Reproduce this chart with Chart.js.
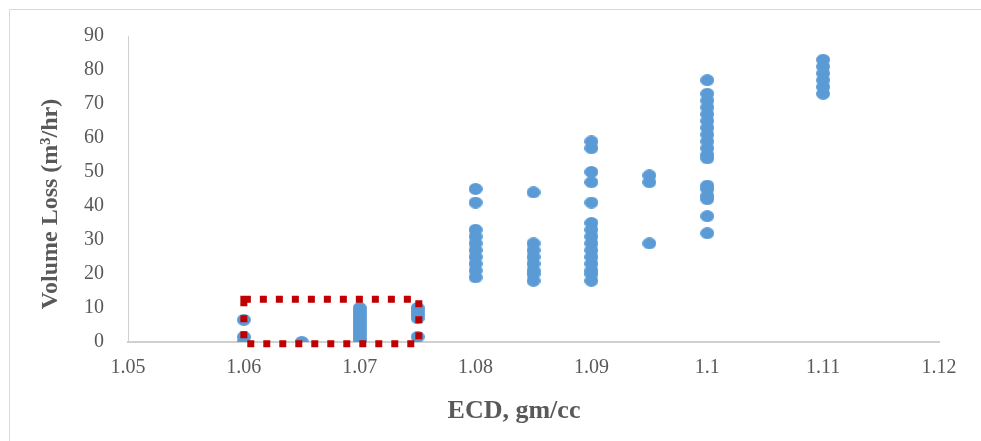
<!DOCTYPE html>
<html>
<head>
<meta charset="utf-8">
<script src="https://cdn.jsdelivr.net/npm/chart.js@4.4.0/dist/chart.umd.min.js"></script>
<style>
  html, body { margin:0; padding:0; background:#fff; }
  #wrap { width:981px; height:441px; position:relative; }
</style>
</head>
<body>
<div id="wrap"><canvas id="myChart" width="981" height="441"></canvas></div>
<script>
// ECD groups and the volume loss readings in each
const ecdValues = [1.06, 1.065, 1.07, 1.075, 1.08, 1.085, 1.09, 1.095, 1.1, 1.11];
const loss106  = [6.5, 1.5, 0];
const loss1065 = [0];
const loss107  = [0, 1, 2, 3, 4, 5, 6, 7, 8, 9, 10];
const loss1075 = [10, 9, 8, 7, 1.5];
const loss108  = [45, 41, 33, 31, 29, 27, 25, 23, 21, 19];
const loss1085 = [44, 29, 27, 25, 23, 21, 20, 18];
const loss109  = [59, 57, 50, 47, 41, 35, 33, 31, 29, 27, 25, 23, 21, 20, 18];
const loss1095 = [49, 47, 29];
const loss110  = [77, 73, 71, 69, 67, 65, 63, 61, 59, 57, 55, 54, 46, 45, 43, 42, 37, 32];
const loss111  = [83, 81, 79, 77, 75, 73];
const lossGroups = [loss106, loss1065, loss107, loss1075, loss108, loss1085, loss109, loss1095, loss110, loss111];

const xTicks = [1.05, 1.06, 1.07, 1.08, 1.09, 1.1, 1.11, 1.12];

const points = [];
for (let i = 0; i < ecdValues.length; i++) {
  lossGroups[i].forEach(v => points.push({x: ecdValues[i], y: v}));
}

// elliptical marker like the original
const dot = document.createElement('canvas');
dot.width = 14; dot.height = 12;
const dctx = dot.getContext('2d');
dctx.fillStyle = '#5B9BD5';
dctx.beginPath();
dctx.ellipse(7, 6, 7, 6, 0, 0, Math.PI * 2);
dctx.fill();

const serif = "'Liberation Serif', 'Times New Roman', serif";
const nb = '\u00a0';

const frame = {
  id: 'frame',
  beforeDraw(chart) {
    const c = chart.ctx;
    c.save();
    c.strokeStyle = '#d9d9d9';
    c.lineWidth = 1;
    c.beginPath();
    c.moveTo(9.5, 441); c.lineTo(9.5, 9.5); c.lineTo(981, 9.5);
    c.stroke();
    c.restore();
  }
};

const box = {
  id: 'box',
  afterDatasetsDraw(chart) {
    const xs = chart.scales.x, ys = chart.scales.y;
    const l = xs.getPixelForValue(1.06), r = xs.getPixelForValue(1.0751);
    const t = ys.getPixelForValue(12.6), b = ys.getPixelForValue(-0.5);
    const c = chart.ctx;
    c.save();
    c.strokeStyle = '#C00000';
    c.lineWidth = 7;
    c.setLineDash([7, 9]);
    c.strokeRect(l, t, r - l, b - t);
    c.restore();
  }
};

new Chart(document.getElementById('myChart'), {
  type: 'scatter',
  data: {
    datasets: [{
      data: points,
      pointStyle: dot,
      backgroundColor: '#5B9BD5',
      borderColor: '#5B9BD5'
    }]
  },
  options: {
    responsive: false,
    animation: false,
    layout: { padding: { top: 34, right: 42, bottom: 0, left: 0 } },
    scales: {
      x: {
        type: 'linear',
        min: 1.05, max: 1.12,
        afterBuildTicks: s => { s.ticks = xTicks.map(v => ({value: v})); },
        afterFit: s => { s.height = 99; },
        grid: { display: false, drawTicks: false },
        border: { color: '#d0d0d0', width: 2 },
        ticks: {
          padding: 14,
          color: '#595959',
          font: { family: serif, size: 20 },
          callback: v => String(+v.toFixed(2))
        },
        title: {
          display: true,
          text: 'ECD, gm/cc' + nb.repeat(6),
          color: '#595959',
          font: { family: serif, size: 26, weight: 'bold' },
          padding: { top: 0, bottom: 14 }
        }
      },
      y: {
        min: 0, max: 90,
        afterFit: s => { s.width = 128; },
        grid: { display: false, drawTicks: false },
        border: { color: '#d0d0d0', width: 1 },
        ticks: {
          stepSize: 10,
          padding: 24,
          color: '#595959',
          font: { family: serif, size: 20 }
        },
        title: {
          display: true,
          text: 'Volume Loss (m\u00b3/hr)' + nb.repeat(5),
          color: '#595959',
          font: { family: serif, size: 24, weight: 'bold' },
          padding: { top: 36, bottom: 0 }
        }
      }
    },
    plugins: {
      legend: { display: false },
      tooltip: { enabled: false }
    }
  },
  plugins: [frame, box]
});
</script>
</body>
</html>
